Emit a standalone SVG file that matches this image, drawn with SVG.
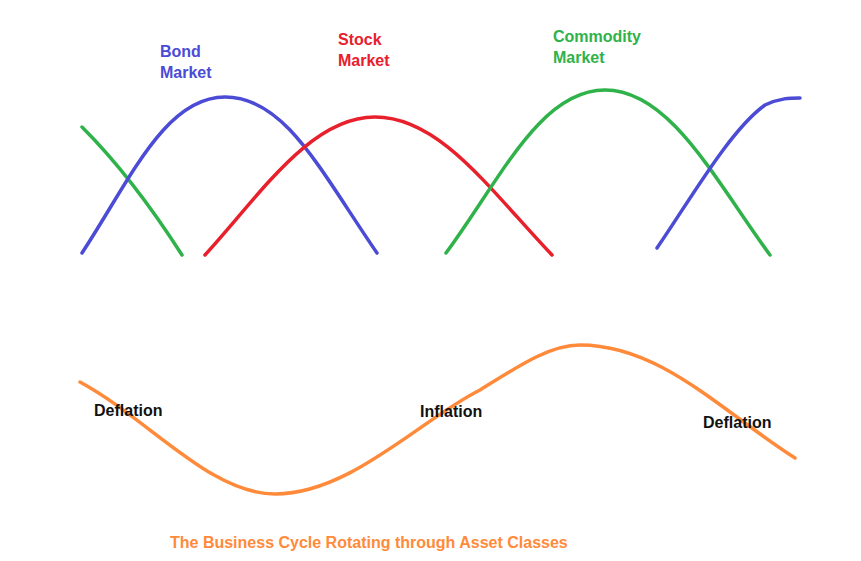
<svg xmlns="http://www.w3.org/2000/svg" width="861" height="561" viewBox="0 0 861 561">
<style>
.c{fill:none;stroke-width:3.5;stroke-linecap:round}
.t{font-family:"Liberation Sans",Arial,sans-serif;font-weight:bold;font-size:16px}
</style>
<rect width="861" height="561" fill="#fff"/>
<path class="c" stroke="#2fb24a" d="M82,127 C120,165 150,205 182,255"/>
<path class="c" stroke="#4b4bd6" d="M82,253 C130,180 165,97 225,97 C285,97 320,170 377,253"/>
<path class="c" stroke="#e8202c" d="M205,255 C260,195 310,117 375,117 C440,117 490,190 552,255"/>
<path class="c" stroke="#2fb24a" d="M446,253 C500,180 540,90 605,90 C670,90 715,180 770,255"/>
<path class="c" stroke="#4b4bd6" d="M657,248 C690,200 730,130 765,105 C780,98 790,98 800,98"/>
<path class="c" stroke="#ff8a3a" d="M80,382 C150,420 210,494 275,494 C350,494 420,420 480,390 C520,365 550,345 580,345 C660,345 720,410 795,458"/>
<text class="t" x="160" y="57" fill="#4b4bd6">Bond</text>
<text class="t" x="160" y="78" fill="#4b4bd6">Market</text>
<text class="t" x="338" y="45" fill="#e8202c">Stock</text>
<text class="t" x="338" y="66" fill="#e8202c">Market</text>
<text class="t" x="553" y="42" fill="#2fb24a">Commodity</text>
<text class="t" x="553" y="63" fill="#2fb24a">Market</text>
<text class="t" x="94" y="416" fill="#111">Deflation</text>
<text class="t" x="420" y="417" fill="#111">Inflation</text>
<text class="t" x="703" y="428" fill="#111">Deflation</text>
<text class="t" x="170" y="548" fill="#ff8a3a">The Business Cycle Rotating through Asset Classes</text>
</svg>
